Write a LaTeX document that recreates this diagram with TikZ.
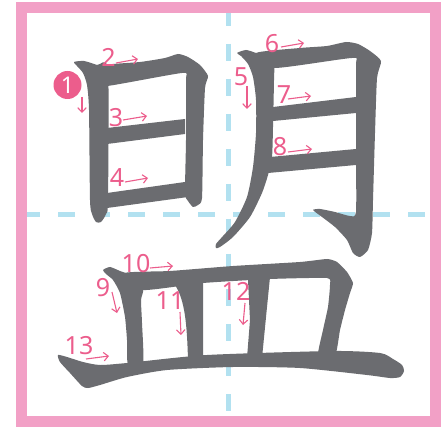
\documentclass[tikz,border=0pt]{standalone}
\usepackage{fontspec}
\setmainfont{Noto Sans}
\usetikzlibrary{arrows.meta}
\definecolor{framepink}{RGB}{242,160,198}
\definecolor{guideblue}{RGB}{178,225,240}
\definecolor{ink}{RGB}{107,108,112}
\definecolor{numpink}{RGB}{236,93,140}
\tikzset{
  num/.style={text=numpink, inner sep=0pt, font=\fontsize{25}{25}\selectfont},
  firstnum/.style={circle, fill=numpink, text=white, inner sep=0pt, minimum size=28pt,
    font=\fontsize{23}{23}\selectfont},
  arr/.style={draw=numpink, line width=1.1pt, -{Straight Barb[length=4.5pt,width=8.5pt]}},
  guide/.style={draw=guideblue, line width=5pt, dash pattern=on 17pt off 18pt, dash phase=4pt},
  brush/.style={fill=ink}
}
\begin{document}
\begin{tikzpicture}[x=1pt, y=-1pt]
      \useasboundingbox (0,0) rectangle (441,427);
      % frame and guides
      \fill[framepink] (16,2) rectangle (441,427);
      \fill[white] (27,13) rectangle (430,416);
      \draw[guide] (27,215) -- (430,215);
      \draw[guide] (228,13) -- (228,416);
      % left part
      \fill[brush] plot[smooth cycle, tension=0.4] coordinates {
        (74,62) (84,61) (97,65) (108,70) (108,200) (106,214) (101,222) (96,222)
        (92,214) (90,200) (89,110) (87,85) (83,73) (77,66)};
      \fill[brush] plot[smooth cycle, tension=0.35] coordinates {
        (97,66) (140,62) (165,58) (178,54) (188,57) (200,65) (208,76) (205,88)
        (203,140) (202,198) (198,205) (193,207) (188,201) (185,193) (186,140)
        (186,80) (182,73) (107,86) (100,80)};
      \fill[brush] (107,128) -- (185,119) -- (185,134) -- (107,144) -- cycle;
      \fill[brush] (107,193) -- (185,182) -- (188,197) -- (107,208) -- cycle;
      % right part
      \fill[brush] plot[smooth cycle, tension=0.4] coordinates {
        (237,53) (246,50) (256,53) (266,57) (274,62) (274,80) (273,127) (272,157)
        (268,175) (262,193) (250,217) (233,237) (220,247) (216,248) (216,244)
        (223,236) (235,222) (247,197) (253,167) (256,133) (256,100) (253,77)
        (248,64) (241,56)};
      \fill[brush] plot[smooth cycle, tension=0.35] coordinates {
        (256,53) (300,48) (327,46) (346,42) (358,44) (370,51) (381,61) (377,78)
        (375,133) (373,200) (372,233) (368,250) (360,257) (353,253) (347,240)
        (335,227) (322,217) (313,210) (320,209) (335,212) (350,216) (356,212)
        (356,150) (356,66) (352,58) (274,68)};
      \fill[brush] (273,107) -- (356,97) -- (356,113) -- (273,121) -- cycle;
      \fill[brush] (270,157) -- (356,149) -- (356,165) -- (268,173) -- cycle;
      % bottom part
      \fill[brush] plot[smooth cycle, tension=0.35] coordinates {
        (103,270) (110,267) (120,271) (130,275) (143,289) (141,300) (142,323)
        (143,364) (128,364) (127,340) (125,317) (120,293) (113,280) (106,274)};
      \fill[brush] plot[smooth cycle, tension=0.3] coordinates {
        (125,273) (170,271) (233,266) (300,262) (327,259) (337,262) (347,272)
        (353,283) (350,293) (345,310) (340,330) (335,356) (318,356) (323,330)
        (328,307) (330,285) (327,278) (270,279) (203,283) (143,290)};
      \fill[brush] (175,285) -- (203,282) -- (203,360) -- (188,360)
        .. controls (187,325) and (185,300) .. cycle;
      \fill[brush] (248,280) -- (270,277) -- (267,307) -- (262,358) -- (247,358)
        -- (250,320) -- cycle;
      \fill[brush] plot[smooth cycle, tension=0.4] coordinates {
        (58,355) (67,357) (83,362) (100,365) (127,363) (207,355) (333,351)
        (380,353) (393,359) (402,365) (404,371) (400,377) (390,378) (367,375)
        (300,368) (233,367) (167,370) (127,377) (100,385) (88,388) (82,386)
        (70,373) (60,362)};
      % numbers
      \path
        (67.5,85) node[firstnum] (n1){1}
        (108.5,57.5) node[num] (n2){2}
        (116,118) node[num] (n3){3}
        (117,178) node[num] (n4){4}
        (241,77) node[num] (n5){5}
        (272,44) node[num] (n6){6}
        (284,95) node[num] (n7){7}
        (280,147) node[num] (n8){8}
        (103,288) node[num] (n9){9}
        (136,264) node[num] (n10){10}
        (170,301) node[num] (n11){11}
        (236,291) node[num] (n12){12}
        (79,346) node[num] (n13){13};
      % arrow ends
      \path
        (82,97) coordinate (s1) (82,113) coordinate (e1)
        (116,63) coordinate (s2) (138,59) coordinate (e2)
        (123,120) coordinate (s3) (147,116) coordinate (e3)
        (125,182) coordinate (s4) (148,178) coordinate (e4)
        (247,86) coordinate (s5) (247,109) coordinate (e5)
        (281,47) coordinate (s6) (304,43) coordinate (e6)
        (288,99) coordinate (s7) (311,96) coordinate (e7)
        (288,152) coordinate (s8) (312,149) coordinate (e8)
        (112,292) coordinate (s9) (117,313) coordinate (e9)
        (150,268) coordinate (s10) (173,266) coordinate (e10)
        (180,312) coordinate (s11) (181,335) coordinate (e11)
        (245,303) coordinate (s12) (243,325) coordinate (e12)
        (86,359) coordinate (s13) (109,356) coordinate (e13);
      \begin{scope}[arr]
        \draw (s1) to (e1);
        \draw (s2) to (e2);
        \draw (s3) to (e3);
        \draw (s4) to (e4);
        \draw (s5) to (e5);
        \draw (s6) to (e6);
        \draw (s7) to (e7);
        \draw (s8) to (e8);
        \draw (s9) to (e9);
        \draw (s10) to (e10);
        \draw (s11) to (e11);
        \draw (s12) to (e12);
        \draw (s13) to (e13);
      \end{scope}
    \end{tikzpicture}
\end{document}
